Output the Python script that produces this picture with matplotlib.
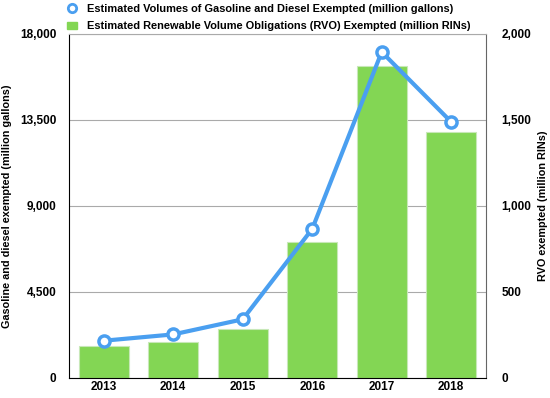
import matplotlib.pyplot as plt
from matplotlib.lines import Line2D
from matplotlib.patches import Patch

# data
years = ['2013', '2014', '2015', '2016', '2017', '2018']
gallons = [1950, 2280, 3070, 7800, 17060, 13400]    # million gallons (left axis)
rvo = [188, 209, 287, 791, 1814, 1430]              # million RINs (right axis)

plt.rcParams['font.family'] = ['Liberation Sans', 'DejaVu Sans']
blue = '#4a9ff0'
green = '#83d654'

fig = plt.figure(figsize=(5.5, 3.98), dpi=100)
ax2 = fig.add_axes([0.1255, 0.0503, 0.758, 0.8643])
ax = ax2.twinx()
ax.set_zorder(ax2.get_zorder() + 1)
ax.patch.set_visible(False)

x = range(len(years))
ax2.bar(x, rvo, width=0.72, color=green, edgecolor='#c8e8b8', linewidth=0.8, zorder=2)
ax2.set_ylim(0, 2000)
ax2.set_yticks([0, 500, 1000, 1500, 2000])
ax2.grid(axis='y', color='#aaaaaa', linewidth=0.8, zorder=0)
ax2.set_axisbelow(True)

ax.plot(x, gallons, color=blue, linewidth=3, marker='o', markersize=8,
        markerfacecolor='white', markeredgecolor=blue, markeredgewidth=2.5, zorder=3)
ax.set_ylim(0, 18000)
ax.set_yticks([0, 4500, 9000, 13500, 18000])
ax.set_xlim(-0.5, 5.5)

# left axis carries gallons, right axis carries RINs -> swap tick sides
ax.yaxis.tick_left()
ax.yaxis.set_label_position('left')
ax2.yaxis.tick_right()
ax2.yaxis.set_label_position('right')

ax.set_yticklabels(['{:,}'.format(v) for v in [0, 4500, 9000, 13500, 18000]])
ax2.set_yticklabels(['{:,}'.format(v) for v in [0, 500, 1000, 1500, 2000]])
ax2.set_xticks(list(x))
ax2.set_xticklabels(years)

for a in (ax, ax2):
    a.tick_params(length=0, labelsize=8.5, pad=11)
    for lab in a.get_xticklabels() + a.get_yticklabels():
        lab.set_fontweight('bold')
    for s in a.spines.values():
        s.set_visible(False)
ax.tick_params(axis='y', pad=9)

ax2.spines['left'].set_visible(True)
ax2.spines['bottom'].set_visible(True)
ax2.spines['left'].set_color('black')
ax2.spines['bottom'].set_color('black')
ax2.spines['right'].set_visible(True)
ax2.spines['right'].set_color('#666666')
ax2.spines['top'].set_visible(True)
ax2.spines['top'].set_color('#aaaaaa')
ax2.tick_params(axis='x', pad=2)

ax.set_ylabel('Gasoline and diesel exempted (million gallons)', fontsize=7.8,
              fontweight='bold', labelpad=6)
ax2.set_ylabel('RVO exempted (million RINs)', fontsize=7.8, fontweight='bold', labelpad=5)

handles = [
    Line2D([], [], color=blue, linestyle='none', marker='o', markersize=6,
           markerfacecolor='white', markeredgewidth=2),
    Patch(facecolor=green, edgecolor=green),
]
labels = ['Estimated Volumes of Gasoline and Diesel Exempted (million gallons)',
          'Estimated Renewable Volume Obligations (RVO) Exempted (million RINs)']
leg = fig.legend(handles, labels, loc='upper left', bbox_to_anchor=(0.103, 1.014),
                 frameon=False, fontsize=7.9, handlelength=1.0, handletextpad=0.9,
                 labelspacing=0.65)
for t in leg.get_texts():
    t.set_fontweight('bold')

fig.savefig('out.png', dpi=100)
